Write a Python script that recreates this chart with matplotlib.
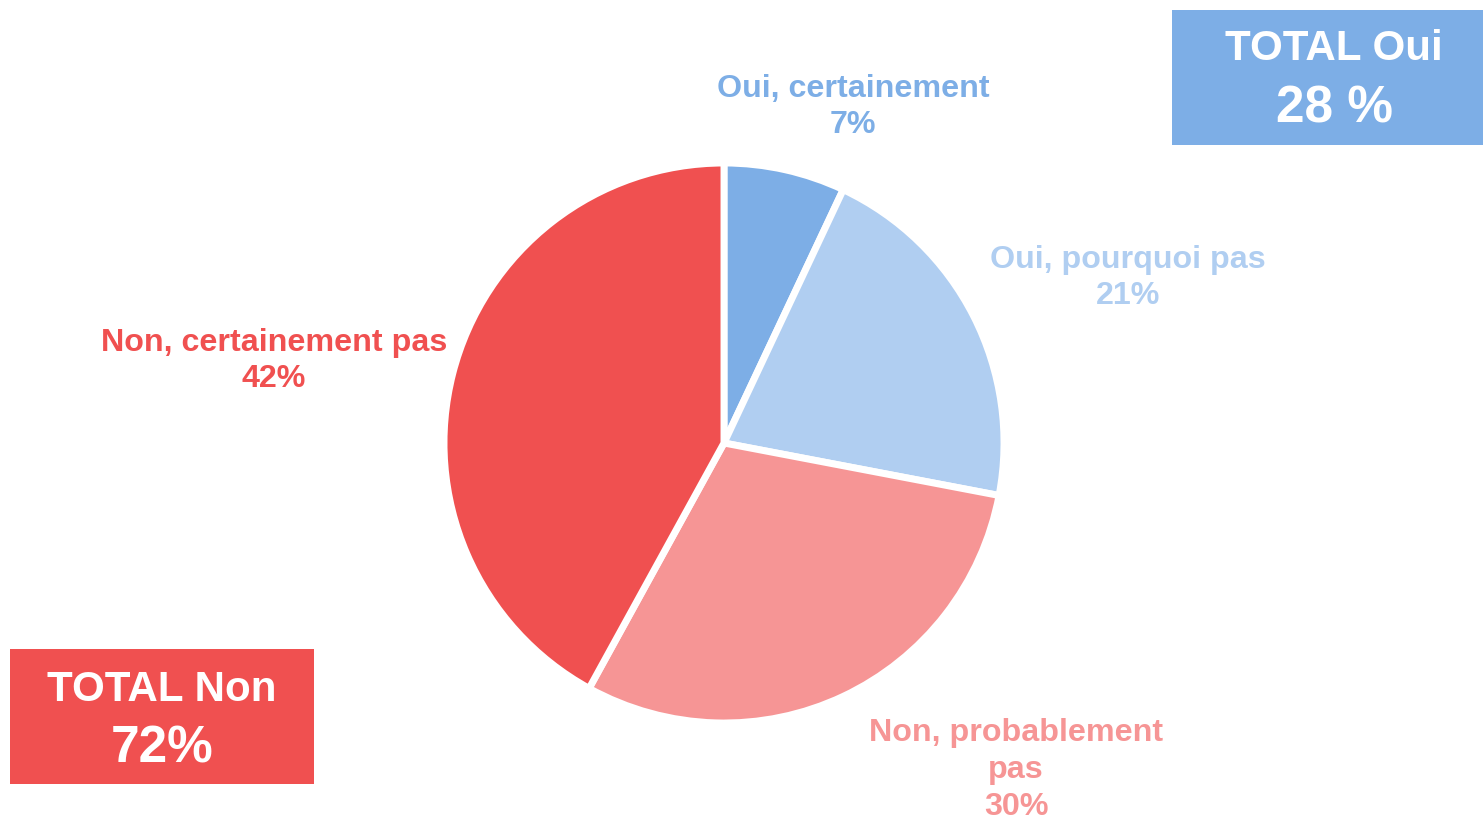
import matplotlib
matplotlib.use("Agg")
import matplotlib.pyplot as plt
from matplotlib.patches import Rectangle

plt.rcParams['font.family'] = ['Liberation Sans', 'DejaVu Sans']

categories = ["Oui, certainement", "Oui, pourquoi pas", "Non, probablement\npas", "Non, certainement pas"]
values = [7, 21, 30, 42]
colors = ["#7DAEE6", "#B0CEF1", "#F69595", "#F05050"]
total_oui = 28
total_non = 72

W, H = 1483, 822
fig = plt.figure(figsize=(W / 100, H / 100), dpi=100)
ax = fig.add_axes([0, 0, 1, 1])
ax.set_xlim(0, W)
ax.set_ylim(0, H)
ax.set_aspect('equal')
ax.axis('off')

cx, cy, r = 724, H - 443, 280
wedges, _ = ax.pie(values, colors=colors, startangle=90, counterclock=False,
                   center=(cx, cy), radius=r, explode=[0.012] * 4,
                   wedgeprops=dict(edgecolor='white', linewidth=5), frame=True)
ax.set_xlim(0, W)
ax.set_ylim(0, H)
ax.axis('off')

label_pos = [(853, 107), (1128, 278), (1016, 770), (274, 361)]
for (x, y), cat, v, c in zip(label_pos, categories, values, colors):
    ax.text(x, H - y, f"{cat}\n{v}%", ha='center', va='center', color=c,
            fontsize=23.2, fontweight='bold', linespacing=1.3)

# TOTAL boxes
ax.add_patch(Rectangle((1172, H - 145), W - 1172, 135, facecolor="#7DAEE6", edgecolor='none'))
ax.text(1334, H - 49, "TOTAL Oui", ha='center', va='center', color='white', fontsize=30.3, fontweight='bold')
ax.text(1335, H - 109, f"{total_oui} %", ha='center', va='center', color='white', fontsize=37, fontweight='bold')

ax.add_patch(Rectangle((10, H - 784), 304, 135, facecolor="#F05050", edgecolor='none'))
ax.text(162, H - 690, "TOTAL Non", ha='center', va='center', color='white', fontsize=30.3, fontweight='bold')
ax.text(162, H - 749, f"{total_non}%", ha='center', va='center', color='white', fontsize=37, fontweight='bold')

fig.savefig("out.png", dpi=100)
